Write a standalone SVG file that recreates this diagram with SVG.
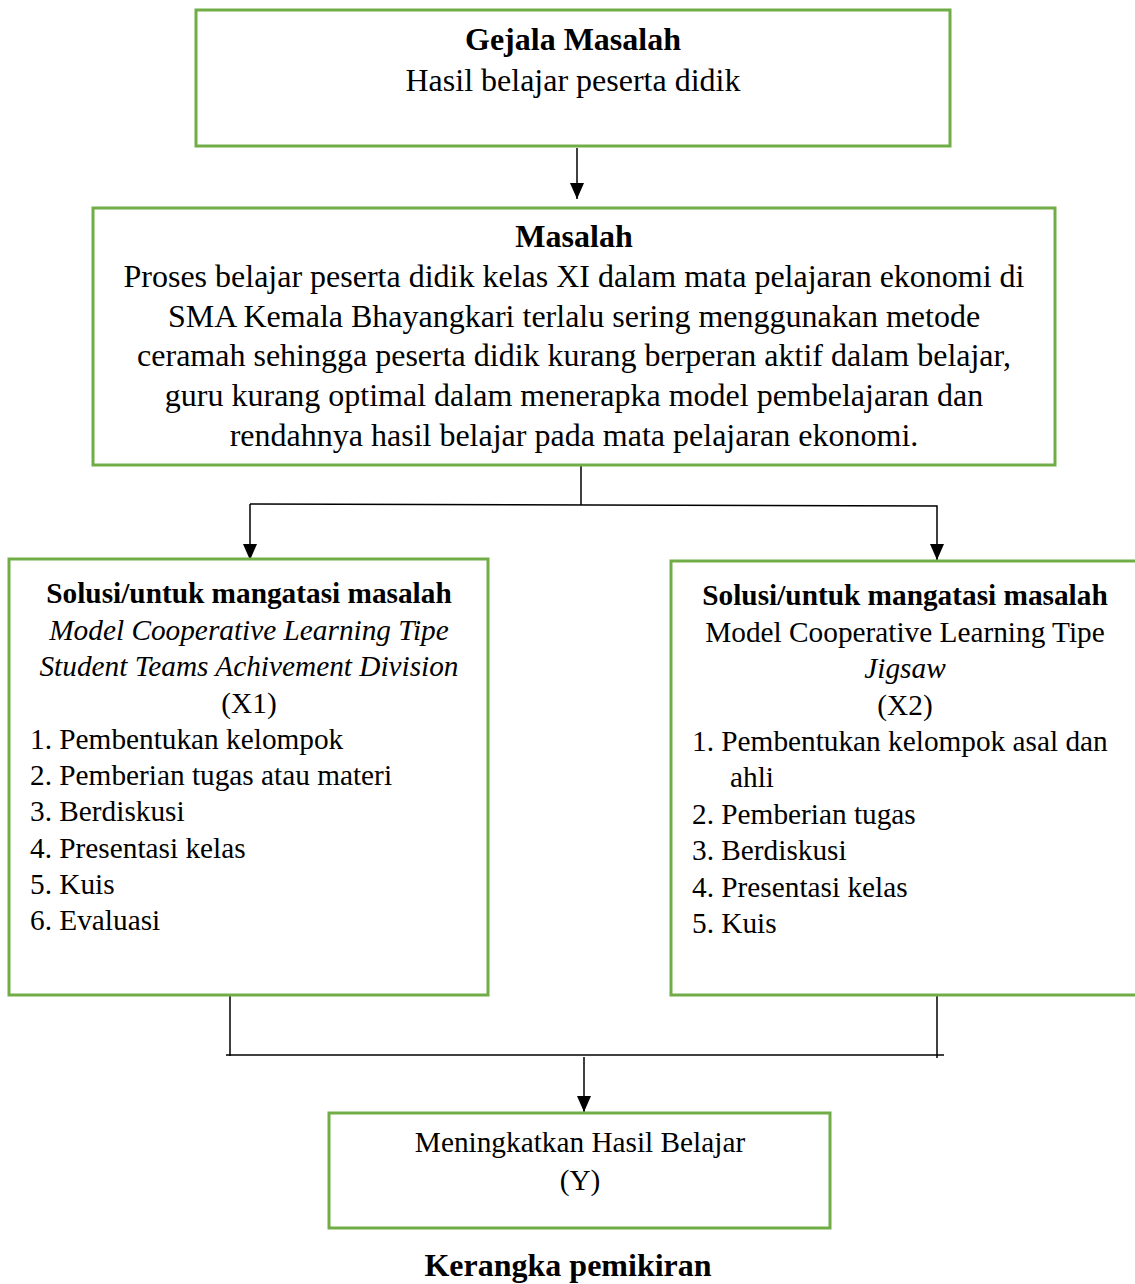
<svg xmlns="http://www.w3.org/2000/svg" width="1135" height="1284" viewBox="0 0 1135 1284">
<defs>
<style>
.box{fill:#fff;stroke:#70AD47;stroke-width:3}
text{font-family:"Liberation Serif","Times New Roman",serif;font-size:29.3px;fill:#000}
.L{font-size:32px}
.c{text-anchor:middle}
.b{font-weight:bold}
.i{font-style:italic}
.ln{stroke:#000;stroke-width:1.5;fill:none}
</style>
<marker id="a" markerWidth="16" markerHeight="16" refX="16" refY="7" orient="auto" markerUnits="userSpaceOnUse" viewBox="0 0 16 14">
<path d="M0,0 L16,7 L0,14 Z" fill="#000"/>
</marker>
</defs>
<rect width="1135" height="1284" fill="#fff"/>
<g id="connectors">
<line class="ln" x1="577" y1="148" x2="577" y2="199" marker-end="url(#a)"/>
<line class="ln" x1="581" y1="466" x2="581" y2="505"/>
<polyline class="ln" points="250,504 937,506 937,560" marker-end="url(#a)"/>
<line class="ln" x1="250" y1="504" x2="250" y2="560" marker-end="url(#a)"/>
<line class="ln" x1="230" y1="995" x2="230" y2="1056"/>
<line class="ln" x1="937" y1="987" x2="937" y2="1058"/>
<line class="ln" x1="226" y1="1055" x2="944" y2="1055"/>
<line class="ln" x1="584" y1="1057" x2="584" y2="1112" marker-end="url(#a)"/>
</g>
<g id="gejala">
<rect class="box" x="196" y="10" width="754" height="136"/>
<text class="c b L" x="573" y="50">Gejala Masalah</text>
<text class="c L" x="573" y="91">Hasil belajar peserta didik</text>
</g>
<g id="masalah">
<rect class="box" x="93" y="208" width="962" height="257"/>
<text class="c b L" x="574" y="247">Masalah</text>
<text class="c L" x="574" y="287">Proses belajar peserta didik kelas XI dalam mata pelajaran ekonomi di</text>
<text class="c L" x="574" y="327">SMA Kemala Bhayangkari terlalu sering menggunakan metode</text>
<text class="c L" x="574" y="366">ceramah sehingga peserta didik kurang berperan aktif dalam belajar,</text>
<text class="c L" x="574" y="406">guru kurang optimal dalam menerapka model pembelajaran dan</text>
<text class="c L" x="574" y="446">rendahnya hasil belajar pada mata pelajaran ekonomi.</text>
</g>
<g id="solusi1">
<rect class="box" x="9" y="559" width="479" height="436"/>
<text class="c b" x="249" y="603">Solusi/untuk mangatasi masalah</text>
<text class="c i" x="249" y="640">Model Cooperative Learning Tipe</text>
<text class="c i" x="249" y="676">Student Teams Achivement Division</text>
<text class="c" x="249" y="713">(X1)</text>
<text x="30" y="749">1. Pembentukan kelompok</text>
<text x="30" y="785">2. Pemberian tugas atau materi</text>
<text x="30" y="821">3. Berdiskusi</text>
<text x="30" y="858">4. Presentasi kelas</text>
<text x="30" y="894">5. Kuis</text>
<text x="30" y="930">6. Evaluasi</text>
</g>
<g id="solusi2">
<rect class="box" x="671" y="561" width="474" height="434"/>
<text class="c b" x="905" y="605">Solusi/untuk mangatasi masalah</text>
<text class="c" x="905" y="642">Model Cooperative Learning Tipe</text>
<text class="c i" x="905" y="678">Jigsaw</text>
<text class="c" x="905" y="715">(X2)</text>
<text x="692" y="751">1. Pembentukan kelompok asal dan</text>
<text x="730" y="787">ahli</text>
<text x="692" y="824">2. Pemberian tugas</text>
<text x="692" y="860">3. Berdiskusi</text>
<text x="692" y="897">4. Presentasi kelas</text>
<text x="692" y="933">5. Kuis</text>
</g>
<g id="hasil">
<rect class="box" x="329" y="1113" width="501" height="115"/>
<text class="c" x="580" y="1152">Meningkatkan Hasil Belajar</text>
<text class="c" x="580" y="1190">(Y)</text>
</g>
<text class="c b L" x="568" y="1276">Kerangka pemikiran</text>
</svg>
